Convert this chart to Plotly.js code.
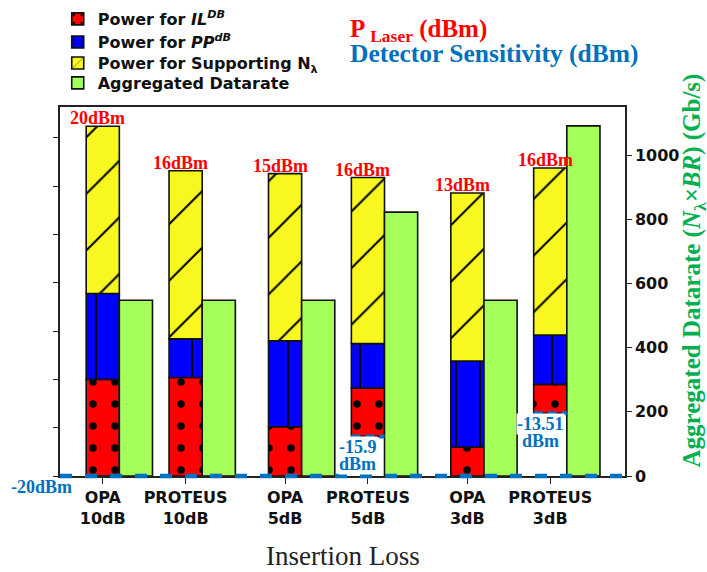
<!DOCTYPE html>
<html><head><meta charset="utf-8">
<script src="https://cdn.plot.ly/plotly-3.0.1.min.js"></script>
<style>html,body{margin:0;padding:0;background:#fff}#chart{width:707px;height:572px}</style>
</head><body><div id="chart"></div>
<script>
// ---- data ----
const categories = ['OPA<br>10dB','PROTEUS<br>10dB','OPA<br>5dB','PROTEUS<br>5dB','OPA<br>3dB','PROTEUS<br>3dB'];
const detectorSensitivity = [-20, -20, -20, -15.9, -20, -13.51];   // dBm (bar base)
const powerIL = [10.0, 10.2, 5.1, 5.0, 3.0, 3.0];                  // dB
const powerPP = [8.9, 4.0, 8.9, 4.6, 8.9, 5.1];                    // dB
const powerNlambda = [17.3, 17.4, 17.3, 17.2, 17.4, 17.3];         // dB
const laserPower = [20, 16, 15, 16, 13, 16];                       // dBm labels
const datarate = [548, 548, 548, 823, 548, 1092];                  // Gb/s
const sensitivityLabels = ['-20dBm', '', '', '-15.9', '', '-13.51'];
const seriesNames = ['Power for <i>IL</i><sup><i>DB</i></sup>', 'Power for <i>PP</i><sup><i>dB</i></sup>',
                     'Power for Supporting N<sub>λ</sub>', 'Aggregated Datarate'];

// ---- layout helpers ----
const xpos = categories.map((c, i) => i + 0.2 * Math.floor(i / 2));
const W = 0.4;
const baseBlue = detectorSensitivity.map((s, i) => s + powerIL[i]);
const baseYellow = baseBlue.map((b, i) => b + powerPP[i]);
const tops = baseYellow.map((b, i) => b + powerNlambda[i]);
const outline = {color: '#111', width: 1.6};
const blueC = '#0070c0';

const traces = [
  {type:'bar', name:seriesNames[0], legend:'legend', x:xpos, y:powerIL, base:detectorSensitivity,
   width:W, offset:-W/2, marker:{color:'#ff0000', line:outline,
   pattern:{shape:'.', fgcolor:'#000', bgcolor:'#ff0000', size:22, solidity:0.09}}},
  {type:'bar', name:seriesNames[1], legend:'legend2', x:xpos, y:powerPP, base:baseBlue,
   width:W, offset:-W/2, marker:{color:'#0000ff', line:outline,
   pattern:{shape:'|', fgcolor:'#000', bgcolor:'#0000ff', size:24, solidity:0.08}}},
  {type:'bar', name:seriesNames[2], legend:'legend3', x:xpos, y:powerNlambda, base:baseYellow,
   width:W, offset:-W/2, marker:{color:'#f8f820', line:outline,
   pattern:{shape:'/', fgcolor:'#000', bgcolor:'#f8f820', size:40, solidity:0.05}}},
  {type:'bar', name:seriesNames[3], legend:'legend4', x:xpos, y:datarate, yaxis:'y2',
   width:W, offset:W/2, marker:{color:'#a5ff5b', line:outline}}
];

const serif = 'Liberation Serif';
const annotations = [];
// laser power labels above stacked bars
xpos.forEach((x, i) => {
  annotations.push({x:x, y:tops[i], xref:'x', yref:'y', text:'<b>' + laserPower[i] + 'dBm</b>', showarrow:false,
    xanchor:'center', yanchor:'bottom', xshift:-5, yshift:-4,
    font:{family:serif, size:18, color:'#ff0000'}});
});
// detector sensitivity labels
sensitivityLabels.forEach((t, i) => {
  if (!t) return;
  if (i === 0) {
    annotations.push({x:-0.032, xref:'paper', y:detectorSensitivity[i], yref:'y', text:'<b>' + t + '</b>',
      showarrow:false, xanchor:'center', yanchor:'middle', yshift:-11,
      font:{family:serif, size:18, color:blueC}});
  } else {
    annotations.push({x:xpos[i], y:detectorSensitivity[i], xref:'x', yref:'y', text:'<b>' + t + '</b>',
      showarrow:false, xanchor:'center', yanchor:'middle', xshift:-10, yshift:-11, bgcolor:'#fff', borderpad:0,
      font:{family:serif, size:18, color:blueC}});
    annotations.push({x:xpos[i], y:detectorSensitivity[i], xref:'x', yref:'y', text:'<b>dBm</b>',
      showarrow:false, xanchor:'center', yanchor:'middle', xshift:-10, yshift:-28, bgcolor:'#fff', borderpad:0,
      font:{family:serif, size:18, color:blueC}});
  }
});
// header texts
annotations.push({x:0.51, y:1.206, xref:'paper', yref:'paper', xanchor:'left', yanchor:'middle', showarrow:false,
  text:'<b>P <sub>Laser</sub> (dBm)</b>', font:{family:serif, size:25, color:'#ff0000'}});
annotations.push({x:0.51, y:1.146, xref:'paper', yref:'paper', xanchor:'left', yanchor:'middle', showarrow:false,
  text:'<b>Detector Sensitivity (dBm)</b>', font:{family:serif, size:25.5, color:blueC}});
// axis titles
annotations.push({x:0.501, y:-0.218, xref:'paper', yref:'paper', xanchor:'center', yanchor:'middle', showarrow:false,
  text:'Insertion Loss', font:{family:serif, size:27, color:'#222'}});
annotations.push({x:1.121, y:0.558, xref:'paper', yref:'paper', xanchor:'center', yanchor:'middle',
  showarrow:false, textangle:-90,
  text:'<b>Aggregated Datarate (<i>N</i><sub>λ</sub><i>×BR</i>) (Gb/s)</b>',
  font:{family:serif, size:25, color:'#00b050'}});

const shapes = [{type:'line', xref:'paper', x0:0, x1:1, yref:'paper', y0:0, y1:0, layer:'above',
  line:{color:blueC, width:4.5, dash:'12px,13px'}}];
xpos.forEach((x, i) => {
  if (detectorSensitivity[i] > -20) {
    shapes.push({type:'line', xref:'x', x0:x - W/2, x1:x + W/2, yref:'y',
      y0:detectorSensitivity[i], y1:detectorSensitivity[i], layer:'above',
      line:{color:blueC, width:4, dash:'9px,5px'}});
  }
});

const legendFont = {family:'DejaVu Sans', size:16, color:'#111', weight:'bold'};
const legendRowY = [1.2385, 1.176, 1.119, 1.065];
const mkLegend = (y) => ({x:-0.004, y:y, xanchor:'left', yanchor:'middle', bgcolor:'rgba(0,0,0,0)',
  borderwidth:0, font:legendFont});

const tickFont = {family:'DejaVu Sans', size:16, color:'#111', weight:'bold'};
const layout = {
  width:707, height:572, margin:{l:60, r:82, t:107, b:96, autoexpand:false},
  paper_bgcolor:'#fff', plot_bgcolor:'#fff', barmode:'overlay', showlegend:true,
  legend:mkLegend(legendRowY[0]), legend2:mkLegend(legendRowY[1]),
  legend3:mkLegend(legendRowY[2]), legend4:mkLegend(legendRowY[3]),
  xaxis:{range:[-0.516, 6.302], tickvals:xpos, ticktext:categories, ticks:'outside', ticklen:6,
    tickcolor:'#222', showline:true, linecolor:'#222', linewidth:1.5, mirror:true,
    showgrid:false, zeroline:false, tickfont:tickFont, automargin:false},
  yaxis:{range:[-20, 18.2], tick0:-20, dtick:5, ticks:'outside', ticklen:5, tickcolor:'#222',
    showticklabels:false, showline:true, linecolor:'#222', linewidth:1.5,
    showgrid:false, zeroline:false, automargin:false},
  yaxis2:{overlaying:'y', side:'right', range:[0, 1151], dtick:200, ticks:'outside', ticklen:5,
    tickcolor:'#222', showline:true, linecolor:'#222', linewidth:1.5,
    showgrid:false, zeroline:false, tickfont:tickFont, automargin:false},
  annotations:annotations, shapes:shapes
};
Plotly.newPlot('chart', traces, layout, {displayModeBar:false, responsive:false});
</script></body></html>
